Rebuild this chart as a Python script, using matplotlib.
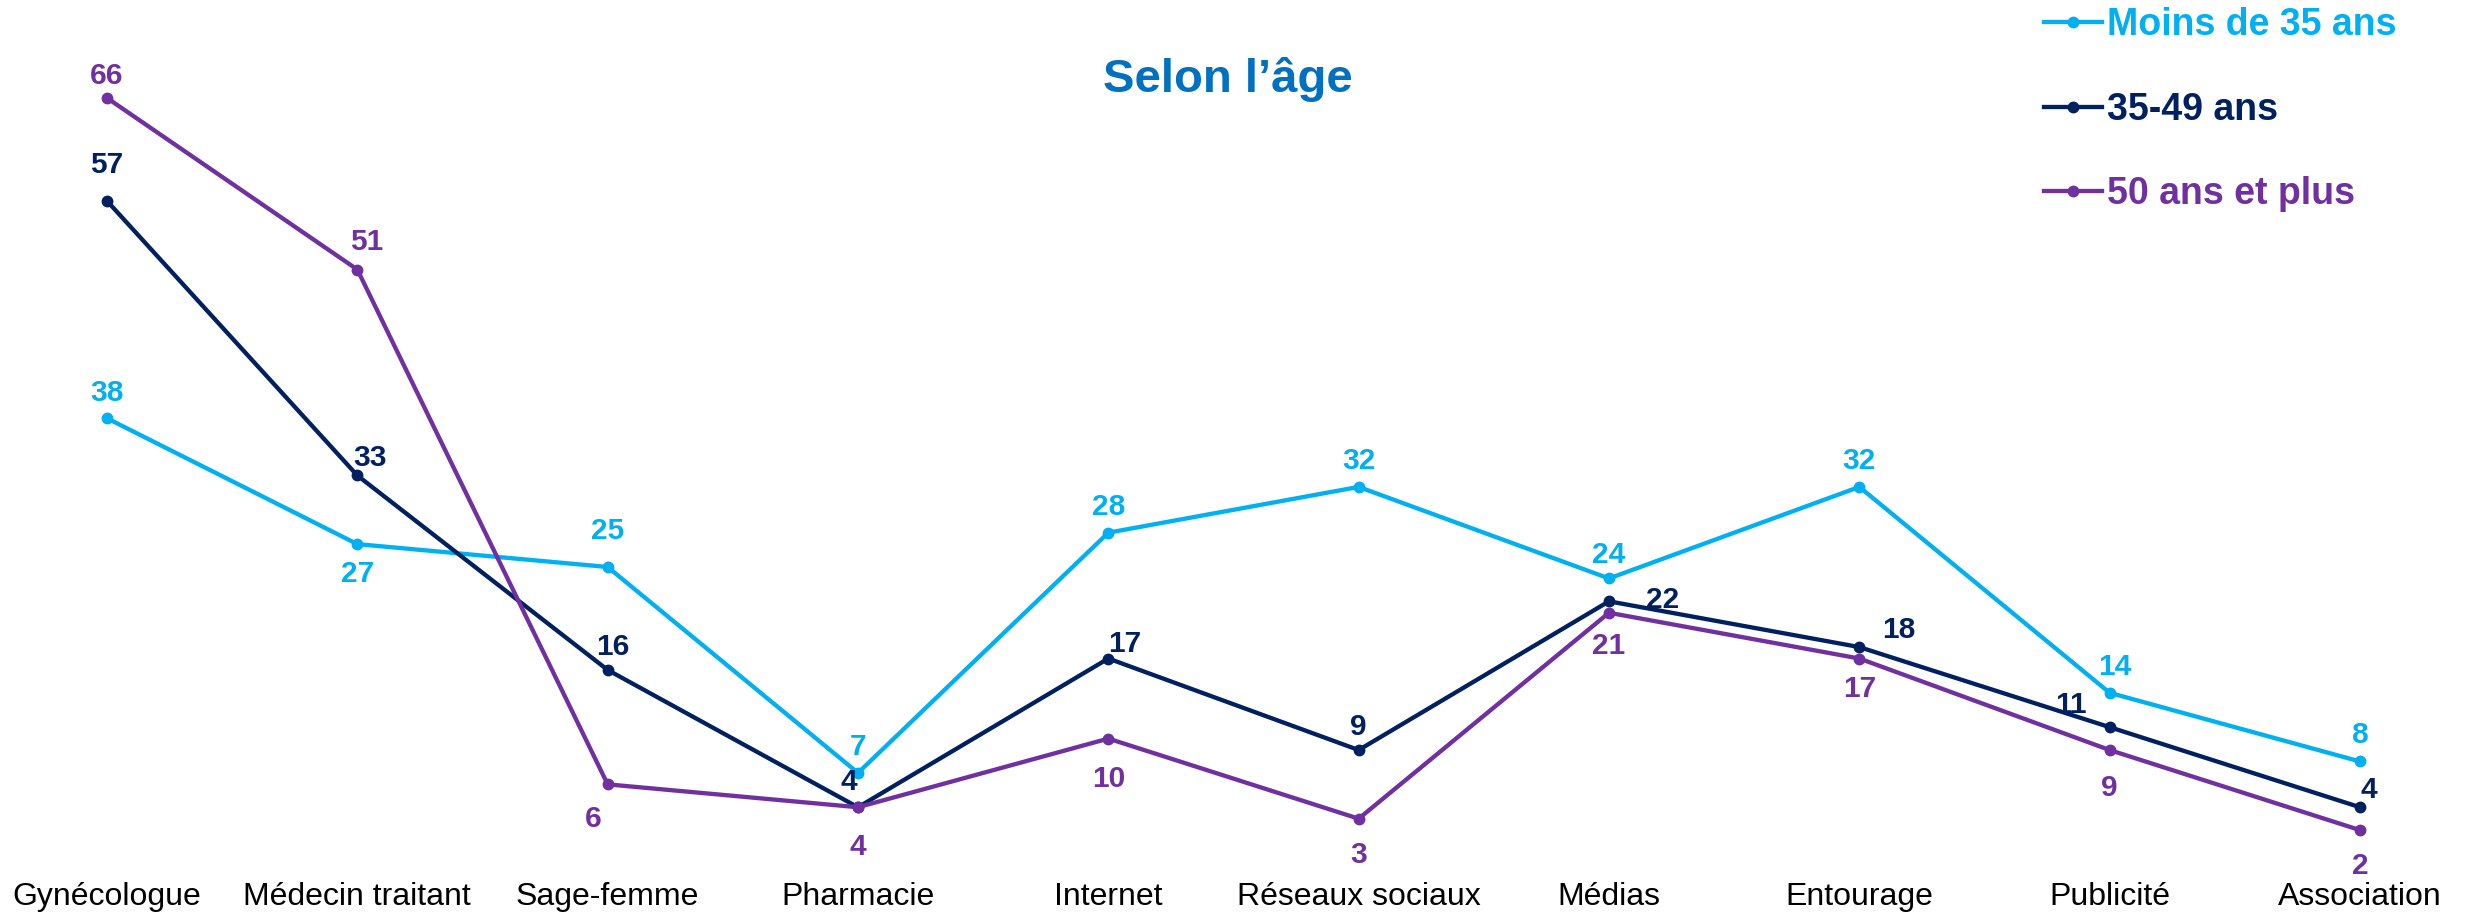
import matplotlib
matplotlib.use("Agg")
import matplotlib.pyplot as plt

plt.rcParams['font.family'] = ['Liberation Sans', 'DejaVu Sans']

# ---- data ----
categories = ["Gynécologue", "Médecin traitant", "Sage-femme", "Pharmacie", "Internet",
              "Réseaux sociaux", "Médias", "Entourage", "Publicité", "Association"]
series_names = ["Moins de 35 ans", "35-49 ans", "50 ans et plus"]
moins_35 = [38, 27, 25, 7, 28, 32, 24, 32, 14, 8]
age_35_49 = [57, 33, 16, 4, 17, 9, 22, 18, 11, 4]
plus_50 = [66, 51, 6, 4, 10, 3, 21, 17, 9, 2]
title = "Selon l\u2019âge"

# ---- styles ----
colors = ["#00B0F0", "#002060", "#7030A0"]
# label offsets in pixels (dx, dy), dy positive = up
offsets = [
    [(0, 30), (0, -25), (0, 41), (0, 31), (0, 31), (0, 31), (0, 28), (0, 31), (5, 31), (0, 31)],
    [(0, 41), (13, 22), (5, 28), (-9, 30), (16, 20), (0, 28), (54, 6), (39, 22), (-39, 27), (9, 22)],
    [(0, 27), (9, 33), (-14, -30), (0, -35), (0, -35), (0, -31), (0, -28), (0, -25), (0, -33), (0, -31)],
]
label_shift = -5

W, H, DPI = 2469, 915, 100
fig = plt.figure(figsize=(W / DPI, H / DPI), dpi=DPI)
x0_px, x9_px = 107, 2360
unit_x = (x9_px - x0_px) / 9
zero_px, unit_y = 853, 11.44
bottom_px = 879
ax = fig.add_axes([0, (H - bottom_px) / H, 1, bottom_px / H])
ax.set_xlim(-x0_px / unit_x, (W - x0_px) / unit_x)
ax.set_ylim((zero_px - bottom_px) / unit_y, zero_px / unit_y)
for s in ax.spines.values():
    s.set_visible(False)
ax.set_yticks([])
xs = list(range(len(categories)))
ax.set_xticks(xs)
ax.set_xticklabels(categories, fontsize=23, color="#000000")
ax.tick_params(axis='x', length=0, pad=2)

all_series = [moins_35, age_35_49, plus_50]
handles = []
for vals, name, col, offs in zip(all_series, series_names, colors, offsets):
    ln, = ax.plot(xs, vals, color=col, lw=3.1, marker='o', markersize=7.5, label=name,
                  solid_joinstyle='round')
    handles.append(ln)
    for x, v, (dx, dy) in zip(xs, vals, offs):
        ax.annotate(str(v), (x, v), xytext=(dx, dy + label_shift), textcoords='offset pixels',
                    ha='center', va='center', fontsize=21.5, fontweight='bold', color=col)

fig.text(1228 / W, 1 - 79 / H, title, ha='center', va='center', fontsize=34,
         fontweight='bold', color="#0070C0")

leg = fig.legend(handles=handles, loc='upper left', bbox_to_anchor=(2044 / W, 1 - 7 / H),
                 frameon=False, fontsize=27, handlelength=1.55, handletextpad=0.12,
                 labelspacing=1.3, borderaxespad=0, borderpad=0)
for t, c in zip(leg.get_texts(), colors):
    t.set_color(c)
    t.set_fontweight('bold')

fig.savefig("out.png", dpi=DPI)
